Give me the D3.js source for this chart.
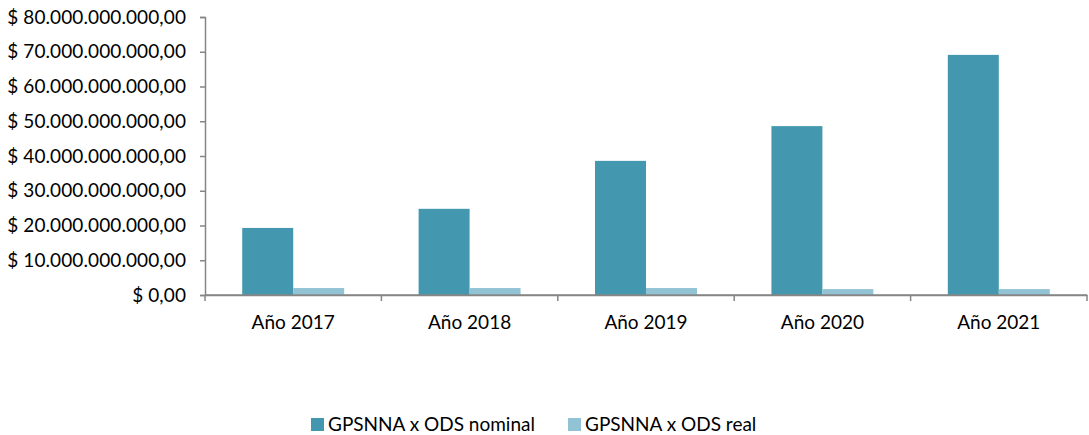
<!DOCTYPE html>
<html><head><meta charset="utf-8">
<script src="https://cdn.jsdelivr.net/npm/d3@7"></script>
<style>body{margin:0;background:#fff;} text{font-family:Lato, "Open Sans", sans-serif;fill:#000;}</style>
</head><body>
<svg id="c" width="1089" height="435"></svg>
<script>
const categories = ["Año 2017","Año 2018","Año 2019","Año 2020","Año 2021"];
const seriesNames = ["GPSNNA x ODS nominal","GPSNNA x ODS real"];
const nominal = [19.3e9, 24.8e9, 38.6e9, 48.6e9, 69.1e9];
const real = [2.0e9, 2.0e9, 2.0e9, 1.7e9, 1.7e9];
const yTicks = [0,10e9,20e9,30e9,40e9,50e9,60e9,70e9,80e9];
const colors = ["#4398AF","#92C3D5"];

const svg = d3.select("#c");
const m = {l:205, r:1087, t:17, b:295};
const x = d3.scaleBand().domain(categories).range([m.l, m.r]).paddingInner(0).paddingOuter(0);
const x1 = d3.scaleBand().domain(seriesNames).range([0, x.bandwidth()]).paddingInner(0).paddingOuter(0.73);
const y = d3.scaleLinear().domain([0,80e9]).range([m.b, m.t]);

const fmt = v => "$ " + (v===0 ? "0,00" : d3.format(",.2f")(v).replace(/,/g,"#").replace(/\./g,",").replace(/#/g,"."));

const FS = "19px";
const yAxis = svg.append("g").attr("transform",`translate(${m.l},0)`)
  .call(d3.axisLeft(y).tickValues(yTicks).tickFormat(fmt).tickSize(5).tickPadding(14));
yAxis.selectAll("text").style("font-size",FS).style("letter-spacing","0.1px");
yAxis.selectAll("line,path").attr("stroke","#868686").attr("stroke-width",1.5);

const xAxis = svg.append("g").attr("transform",`translate(0,${m.b})`)
  .call(d3.axisBottom(x).tickSize(0).tickPadding(21));
xAxis.select(".domain").attr("stroke","#868686").attr("stroke-width",1.5);
xAxis.selectAll("text").style("font-size",FS);
const bounds = categories.map(c=>x(c)).concat([m.r]);
svg.append("g").selectAll("line").data(bounds).join("line")
  .attr("x1",d=>d).attr("x2",d=>d).attr("y1",m.b).attr("y2",m.b+6)
  .attr("stroke","#868686").attr("stroke-width",1.5);

const data = [nominal, real];
seriesNames.forEach((s,i)=>{
  svg.append("g").selectAll("rect").data(categories).join("rect")
    .attr("x",c=>x(c)+x1(s)).attr("width",x1.bandwidth())
    .attr("y",(c,j)=>y(data[i][j])).attr("height",(c,j)=>y(0)-y(data[i][j]))
    .attr("fill",colors[i]);
});
svg.append("line").attr("x1",m.l).attr("x2",m.r).attr("y1",m.b).attr("y2",m.b).attr("stroke","#868686").attr("stroke-width",1.5);

const legX = [311, 568];
const leg = svg.append("g");
seriesNames.forEach((s,i)=>{
  leg.append("rect").attr("x",legX[i]).attr("y",418).attr("width",13).attr("height",13).attr("fill",colors[i]);
  leg.append("text").attr("x",legX[i]+17).attr("y",431).style("font-size",FS).text(s);
});
</script>
</body></html>
